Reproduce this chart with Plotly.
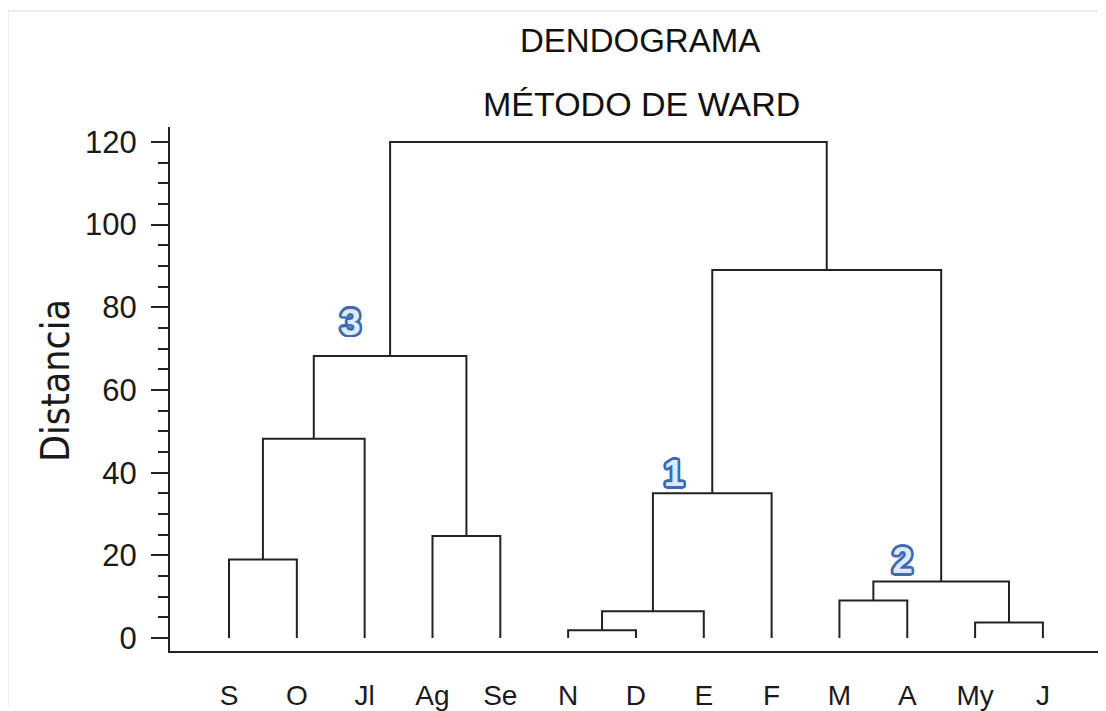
import plotly.graph_objects as go

# ---- data ----
leaves = ["S", "O", "Jl", "Ag", "Se", "N", "D", "E", "F", "M", "A", "My", "J"]
# merges: (left child, right child, height); children are leaf names or merge ids "m#"
merge_left = ["S", "m0", "Ag", "m1", "N", "m4", "m5", "M", "My", "m7", "m6", "m3"]
merge_right = ["O", "Jl", "Se", "m2", "D", "E", "F", "A", "J", "m8", "m9", "m10"]
merge_height = [19, 48.2, 24.7, 68.2, 1.9, 6.5, 35.0, 9.1, 3.8, 13.7, 89.0, 120]

cluster_labels = ["3", "1", "2"]
cluster_x = [1.79, 6.56, 9.93]
cluster_y = [75.6, 39.0, 18.0]

ytick_vals = [0, 20, 40, 60, 80, 100, 120]

# ---- build dendrogram geometry ----
pos = {name: (i, 0.0) for i, name in enumerate(leaves)}
xs, ys = [], []
for k, (l, r, h) in enumerate(zip(merge_left, merge_right, merge_height)):
    xl, yl = pos[l]
    xr, yr = pos[r]
    xs += [xl, xl, xr, xr, None]
    ys += [yl, h, h, yr, None]
    pos["m%d" % k] = ((xl + xr) / 2.0, h)

LINE = "#222222"
fig = go.Figure()
fig.add_trace(go.Scatter(x=xs, y=ys, mode="lines",
                         line=dict(color=LINE, width=2),
                         hoverinfo="skip", showlegend=False))

outline = "#3d6ab0"
offs = [(-2, -2), (2, -2), (-2, 2), (2, 2), (0, 2.6), (0, -2.6), (2.6, 0), (-2.6, 0),
        (-1, -2.4), (1, 2.4), (2.4, -1), (-2.4, 1), (1, -2.4), (-1, 2.4), (2.4, 1), (-2.4, -1)]
sh = ", ".join("%gpx %gpx 0 %s" % (dx, dy, outline) for dx, dy in offs)
fig.add_trace(go.Scatter(x=cluster_x, y=cluster_y, mode="text", text=cluster_labels,
                         textfont=dict(family="Liberation Sans, Arial", size=37,
                                       color="#dfeaf7", weight="bold", shadow=sh),
                         hoverinfo="skip", showlegend=False))

# page body has an 8px margin: figure origin sits at (8, 8) in the window
OX, OY = 8, 8
W, H = 1106 - OX, 711 - OY
L, R, T, B = 170 - OX, 0, 127 - OY, 711 - 655
pw, ph = W - L - R, H - T - B

def px(x):
    return (x - OX - L) / pw

def py(y):
    return (H - B - (y - OY)) / ph

fig.update_layout(
    width=W, height=H,
    margin=dict(l=L, r=R, t=T, b=B, pad=0),
    paper_bgcolor="white", plot_bgcolor="white",
    font=dict(family="Liberation Sans, Arial, sans-serif", color="#1a1a1a"),
    xaxis=dict(range=[-0.87, 12.93], tickvals=list(range(len(leaves))), ticktext=leaves,
               showgrid=False, zeroline=False, showline=True, linecolor=LINE, linewidth=2,
               ticks="", tickfont=dict(size=28, color="#1a1a1a"), ticklabelstandoff=18),
    yaxis=dict(range=[-3.12, 123.6], tickvals=ytick_vals,
               showgrid=False, zeroline=False, showline=True, linecolor=LINE, linewidth=2,
               ticks="outside", ticklen=17, tickwidth=2, tickcolor=LINE,
               minor=dict(dtick=5, ticks="outside", ticklen=10, tickwidth=1.5, tickcolor=LINE),
               tickfont=dict(size=31, color="#1a1a1a"), ticklabelstandoff=8),
    annotations=[
        dict(text="DENDOGRAMA", x=px(640), y=py(40), xref="paper", yref="paper",
             xanchor="center", yanchor="middle", showarrow=False,
             font=dict(size=33, color="#111111")),
        dict(text="MÉTODO DE WARD", x=px(641), y=py(104), xref="paper", yref="paper",
             xanchor="center", yanchor="middle", showarrow=False,
             font=dict(size=34, color="#111111")),
        dict(text="Distancia", x=px(55), y=py(383), xref="paper", yref="paper",
             xanchor="center", yanchor="middle", showarrow=False, textangle=-90,
             font=dict(family="Liberation Sans Narrow, DejaVu Sans Condensed, Arial Narrow, sans-serif",
                       size=39, color="#1a1a1a")),
    ],
    shapes=[
        dict(type="line", xref="paper", yref="paper", x0=px(7), x1=px(1106), y0=py(10), y1=py(10),
             line=dict(color="#ececec", width=2)),
        dict(type="line", xref="paper", yref="paper", x0=px(8), x1=px(8), y0=py(10), y1=py(711),
             line=dict(color="#f0f0f0", width=2)),
    ],
)

fig.write_html("out.html")
